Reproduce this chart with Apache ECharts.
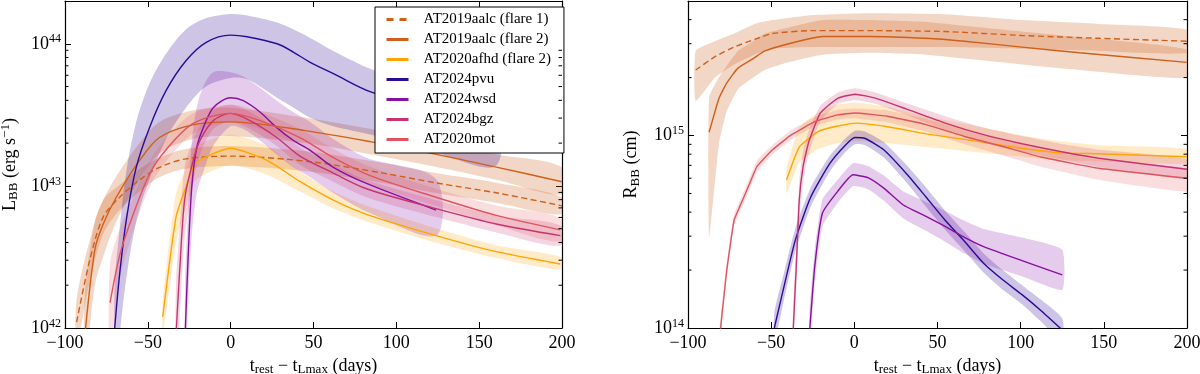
<!DOCTYPE html>
<html>
<head>
<meta charset="utf-8">
<script src="https://cdn.jsdelivr.net/npm/echarts@6/dist/echarts.min.js"></script>
<style>
  html, body { margin: 0; background: #fff; }
  #main { width: 1200px; height: 374px; }
</style>
</head>
<body>
<div id="main"></div>
<script>
// ---- left panel: L_BB (erg s^-1) vs t_rest - t_Lmax (days) ----
const lAalc1T  = [-93, -85, -77, -67, -55, -43, -27, 0, 48, 92, 124, 161, 200];
const lAalc1   = [1.10e42, 3.02e42, 6.03e42, 8.32e42, 1.10e43, 1.35e43, 1.55e43, 1.62e43, 1.48e43, 1.23e43, 1.05e43, 8.91e42, 7.24e42];
const lAalc1Lo = [7.59e41, 2.14e42, 4.57e42, 6.76e42, 9.12e42, 1.15e43, 1.32e43, 1.38e43, 1.26e43, 1.05e43, 8.91e42, 7.59e42, 6.31e42];
const lAalc1Hi = [1.58e42, 4.17e42, 7.94e42, 1.02e43, 1.32e43, 1.58e43, 1.82e43, 1.91e43, 1.74e43, 1.45e43, 1.23e43, 1.05e43, 8.32e42];

const lAalc2T  = [-88, -82, -77, -69, -55, -43, -23, 0, 45, 85, 125, 161, 200];
const lAalc2   = [8.91e41, 3.55e42, 5.37e42, 8.32e42, 1.51e43, 2.19e43, 2.69e43, 2.82e43, 2.45e43, 2.04e43, 1.66e43, 1.35e43, 1.07e43];
const lAalc2Lo = [5.01e41, 2.00e42, 3.16e42, 5.62e42, 1.12e43, 1.70e43, 2.14e43, 2.24e43, 2.00e43, 1.66e43, 1.35e43, 1.10e43, 8.71e42];
const lAalc2Hi = [1.78e42, 5.62e42, 7.94e42, 1.17e43, 2.00e43, 2.82e43, 3.39e43, 3.55e43, 3.02e43, 2.51e43, 2.04e43, 1.66e43, 1.35e43];

const lAfhdT  = [-41, -33, -27, -21, 0, 22, 42, 62, 82, 124, 161, 199];
const lAfhd   = [1.20e42, 6.03e42, 9.77e42, 1.45e43, 1.84e43, 1.51e43, 1.07e43, 7.94e42, 6.31e42, 4.47e42, 3.43e42, 2.82e42];
const lAfhdLo = [8.91e41, 3.98e42, 7.08e42, 1.10e43, 1.41e43, 1.20e43, 9.12e42, 6.92e42, 5.62e42, 3.98e42, 3.09e42, 2.57e42];
const lAfhdHi = [1.58e42, 8.91e42, 1.32e43, 1.91e43, 2.29e43, 1.91e43, 1.26e43, 9.12e42, 7.24e42, 5.01e42, 3.80e42, 3.16e42];

const lPvuT  = [-70, -67, -63, -57, -49, -39, -27, -15, 0, 10, 28, 38, 48, 62, 85, 120, 160];
const lPvu   = [1.00e42, 2.40e42, 5.75e42, 1.35e43, 2.57e43, 4.68e43, 7.59e43, 1.02e44, 1.15e44, 1.12e44, 1.00e44, 8.71e43, 7.41e43, 6.17e43, 4.57e43, 3.55e43, 2.75e43];
const lPvuLo = [3.98e41, 8.91e41, 2.24e42, 5.62e42, 1.12e43, 2.14e43, 3.55e43, 5.01e43, 5.75e43, 5.62e43, 4.17e43, 3.55e43, 3.02e43, 2.63e43, 2.29e43, 1.78e43, 1.38e43];
const lPvuHi = [2.00e42, 5.01e42, 1.26e43, 2.82e43, 5.25e43, 8.51e43, 1.26e44, 1.51e44, 1.62e44, 1.58e44, 1.41e44, 1.26e44, 1.10e44, 8.91e43, 6.61e43, 4.79e43, 3.80e43];

const lWsdT  = [-27.5, -25.6, -23.5, -20.5, -16.5, -10.5, 0, 7.6, 17.7, 27.8, 37.8, 48, 62, 82, 124];
const lWsd   = [8.91e41, 3.31e42, 9.77e42, 1.86e43, 2.57e43, 3.55e43, 4.17e43, 3.98e43, 3.31e43, 2.57e43, 2.09e43, 1.78e43, 1.35e43, 1.04e43, 6.76e42];
const lWsdLo = [5.01e41, 1.58e42, 4.47e42, 8.91e42, 1.26e43, 1.91e43, 2.63e43, 2.51e43, 2.09e43, 1.66e43, 1.35e43, 1.15e43, 8.91e42, 6.61e42, 4.47e42];
const lWsdHi = [2.00e42, 7.08e42, 2.00e43, 3.55e43, 5.01e43, 6.31e43, 6.31e43, 5.89e43, 4.90e43, 3.98e43, 3.31e43, 2.82e43, 2.14e43, 1.58e43, 1.12e43];

const lBgzT  = [-33, -30.2, -27.6, -22.6, -18.5, -10.5, 0, 11.7, 27.8, 41.8, 62, 82, 124, 161, 199];
const lBgz   = [8.91e41, 3.31e42, 8.32e42, 1.51e43, 2.09e43, 2.88e43, 3.24e43, 2.88e43, 2.19e43, 1.62e43, 1.23e43, 9.55e42, 6.92e42, 5.37e42, 4.47e42];
const lBgzLo = [4.47e41, 1.58e42, 4.47e42, 1.05e43, 1.66e43, 2.51e43, 2.82e43, 2.51e43, 1.91e43, 1.41e43, 1.07e43, 8.32e42, 6.03e42, 4.68e42, 3.80e42];
const lBgzHi = [2.00e42, 6.31e42, 1.41e43, 2.09e43, 2.63e43, 3.39e43, 3.72e43, 3.31e43, 2.51e43, 1.86e43, 1.41e43, 1.10e43, 7.94e42, 6.17e42, 5.25e42];

const lMotT  = [-72.8, -66.8, -58.8, -48.7, -38.6, -22.6, 0, 17.7, 41.8, 62, 85, 124, 161, 199];
const lMot   = [1.51e42, 3.31e42, 6.31e42, 1.23e43, 1.82e43, 2.75e43, 3.24e43, 2.88e43, 2.19e43, 1.58e43, 1.17e43, 8.32e42, 6.17e42, 4.90e42];
const lMotLo = [6.31e41, 2.24e42, 4.79e42, 1.00e43, 1.51e43, 2.34e43, 2.82e43, 2.51e43, 1.91e43, 1.38e43, 1.02e43, 7.24e42, 5.25e42, 4.07e42];
const lMotHi = [2.82e42, 5.01e42, 8.32e42, 1.51e43, 2.19e43, 3.24e43, 3.72e43, 3.31e43, 2.51e43, 1.82e43, 1.35e43, 9.55e42, 7.24e42, 5.89e42];

// ---- right panel: R_BB (cm) ----
const rAalc1T  = [-95.4, -83.8, -72.3, -60, -49.2, -26.2, 8.5, 54.6, 100.8, 146.9, 200];
const rAalc1   = [2.19e15, 2.57e15, 2.88e15, 3.16e15, 3.39e15, 3.51e15, 3.51e15, 3.47e15, 3.31e15, 3.20e15, 3.09e15];
const rAalc1Lo = [1.51e15, 2.00e15, 2.34e15, 2.63e15, 2.82e15, 2.88e15, 2.88e15, 2.88e15, 2.82e15, 2.75e15, 2.69e15];
const rAalc1Hi = [2.75e15, 3.09e15, 3.39e15, 3.80e15, 3.98e15, 4.22e15, 4.32e15, 4.27e15, 3.98e15, 3.80e15, 3.55e15];

const rAalc2T  = [-87.3, -81.5, -76.9, -70, -60.8, -53.8, -40, -19.2, 8.5, 43.1, 66.2, 100.8, 135.4, 200];
const rAalc2   = [1.04e15, 1.55e15, 1.86e15, 2.24e15, 2.51e15, 2.75e15, 2.99e15, 3.27e15, 3.27e15, 3.20e15, 3.09e15, 2.88e15, 2.69e15, 2.40e15];
const rAalc2Lo = [2.95e14, 8.91e14, 1.32e15, 1.74e15, 2.00e15, 2.19e15, 2.40e15, 2.63e15, 2.69e15, 2.63e15, 2.51e15, 2.34e15, 2.19e15, 2.00e15];
const rAalc2Hi = [1.58e15, 2.00e15, 2.29e15, 2.75e15, 3.09e15, 3.39e15, 3.63e15, 3.98e15, 3.98e15, 3.89e15, 3.72e15, 3.47e15, 3.24e15, 2.79e15];

const rAfhdT  = [-40.7, -33.1, -21.5, -10, 1.5, 20, 43.1, 66.2, 100.8, 123.8, 146.9, 200];
const rAfhd   = [5.89e14, 8.71e14, 1.05e15, 1.12e15, 1.16e15, 1.11e15, 1.02e15, 9.55e14, 8.59e14, 8.13e14, 8.04e14, 7.76e14];
const rAfhdLo = [5.01e14, 7.24e14, 8.51e14, 9.12e14, 9.33e14, 9.12e14, 8.71e14, 8.32e14, 7.76e14, 7.41e14, 7.33e14, 7.16e14];
const rAfhdHi = [6.76e14, 1.10e15, 1.32e15, 1.45e15, 1.48e15, 1.41e15, 1.26e15, 1.15e15, 1.00e15, 9.33e14, 8.91e14, 8.51e14];

const rPvuT  = [-48.1, -42.3, -35.4, -26.2, -14.6, -5.4, 0.4, 6.2, 17.7, 31.5, 43.1, 54.6, 66.2, 77.7, 89.2, 100.8, 112.3, 125];
const rPvu   = [1.00e14, 1.64e14, 2.88e14, 4.79e14, 7.18e14, 8.91e14, 9.77e14, 9.68e14, 8.43e14, 6.31e14, 4.79e14, 3.63e14, 2.82e14, 2.17e14, 1.78e14, 1.49e14, 1.23e14, 9.77e13];
const rPvuLo = [8.32e13, 1.40e14, 2.51e14, 4.27e14, 6.55e14, 8.22e14, 9.02e14, 8.93e14, 7.69e14, 5.69e14, 4.27e14, 3.24e14, 2.51e14, 1.94e14, 1.58e14, 1.33e14, 1.08e14, 8.51e13];
const rPvuHi = [1.20e14, 1.93e14, 3.31e14, 5.37e14, 7.87e14, 9.66e14, 1.06e15, 1.05e15, 9.25e14, 7.00e14, 5.37e14, 4.07e14, 3.16e14, 2.44e14, 2.00e14, 1.67e14, 1.40e14, 1.12e14];

const rWsdT  = [-27, -23.8, -19.2, -10, -0.8, 8.5, 17.7, 29.2, 43.1, 54.6, 66.2, 77.7, 100.8, 125];
const rWsd   = [9.33e13, 2.09e14, 3.95e14, 5.13e14, 6.25e14, 6.03e14, 5.33e14, 4.37e14, 3.80e14, 3.37e14, 2.96e14, 2.65e14, 2.24e14, 1.89e14];
const rWsdLo = [7.41e13, 1.70e14, 3.37e14, 4.47e14, 5.45e14, 5.25e14, 4.59e14, 3.72e14, 3.20e14, 2.81e14, 2.44e14, 2.16e14, 1.86e14, 1.58e14];
const rWsdHi = [1.17e14, 2.57e14, 4.65e14, 5.89e14, 7.18e14, 6.92e14, 6.19e14, 5.13e14, 4.52e14, 4.06e14, 3.61e14, 3.27e14, 2.95e14, 2.55e14];

const rBgzT  = [-37, -34.9, -33.1, -30.8, -27.3, -20.4, -10, 0.4, 13.1, 31.5, 54.6, 77.7, 100.8, 123.8, 146.9, 200];
const rBgz   = [8.91e13, 2.09e14, 4.63e14, 6.92e14, 9.33e14, 1.31e15, 1.56e15, 1.64e15, 1.56e15, 1.37e15, 1.16e15, 1.01e15, 9.06e14, 8.26e14, 7.62e14, 6.68e14];
const rBgzLo = [6.76e13, 1.58e14, 3.68e14, 5.75e14, 8.13e14, 1.19e15, 1.46e15, 1.53e15, 1.46e15, 1.28e15, 1.07e15, 9.18e14, 8.26e14, 7.53e14, 6.87e14, 5.96e14];
const rBgzHi = [1.17e14, 2.75e14, 5.83e14, 8.32e14, 1.07e15, 1.43e15, 1.67e15, 1.76e15, 1.67e15, 1.47e15, 1.26e15, 1.10e15, 9.93e14, 9.06e14, 8.45e14, 7.50e14];

const rMotT  = [-81, -76.9, -72.3, -65.4, -58.5, -49.2, -37.7, -23.8, -10, 0.4, 20, 43.1, 66.2, 89.2, 112.3, 146.9, 200];
const rMot   = [8.91e13, 1.93e14, 3.63e14, 5.01e14, 6.92e14, 8.43e14, 1.01e15, 1.18e15, 1.28e15, 1.31e15, 1.26e15, 1.14e15, 9.89e14, 8.77e14, 7.73e14, 6.76e14, 6.00e14];
const rMotLo = [7.94e13, 1.76e14, 3.39e14, 4.68e14, 6.46e14, 7.96e14, 9.51e14, 1.12e15, 1.21e15, 1.23e15, 1.17e15, 1.05e15, 9.02e14, 7.91e14, 6.89e14, 5.89e14, 5.11e14];
const rMotHi = [1.00e14, 2.11e14, 3.89e14, 5.37e14, 7.41e14, 8.93e14, 1.07e15, 1.25e15, 1.36e15, 1.38e15, 1.35e15, 1.22e15, 1.07e15, 9.51e14, 8.47e14, 7.50e14, 6.73e14];

// axis ranges and log minor tick positions
const xTicks = [-100, 200, 50];
const lYRange = [1e42, 2e44];
const rYRange = [1e14, 5e15];
const lMinor = [2e42, 3e42, 4e42, 5e42, 6e42, 7e42, 8e42, 9e42, 2e43, 3e43, 4e43, 5e43, 6e43, 7e43, 8e43, 9e43];
const rMinor = [2e14, 3e14, 4e14, 5e14, 6e14, 7e14, 8e14, 9e14, 2e15, 3e15, 4e15];

const names = ['AT2019aalc (flare 1)', 'AT2019aalc (flare 2)', 'AT2020afhd (flare 2)',
               'AT2024pvu', 'AT2024wsd', 'AT2024bgz', 'AT2020mot'];
const colors = ['#cf5f1a', '#cf5f1a', '#ffa500', '#2c0a98', '#87109f', '#c8336f', '#e0545e'];
const bands  = ['rgba(207,95,26,0.25)', 'rgba(207,95,26,0.25)', 'rgba(255,165,0,0.22)',
                'rgba(44,10,152,0.24)', 'rgba(135,16,168,0.22)', 'rgba(200,51,111,0.2)', 'rgba(224,84,94,0.2)'];

const FONT = 'Liberation Serif';

function lineSeries(k, panel, t, v, smooth) {
  return {
    name: names[k], type: 'line', xAxisIndex: panel * 2, yAxisIndex: panel * 2,
    data: t.map((x, i) => [x, v[i]]),
    symbol: 'none', showSymbol: false, smooth: smooth, clip: true, silent: true, z: 3,
    lineStyle: { color: colors[k], width: 1.4, type: k === 0 ? [6, 3.5] : 'solid' },
    itemStyle: { color: colors[k] }
  };
}

function bandSeries(k, panel, t, lo, hi, smooth) {
  return {
    type: 'custom', xAxisIndex: panel * 2, yAxisIndex: panel * 2, silent: true, z: 1,
    data: t.map((x, i) => [x, lo[i], hi[i]]),
    encode: { x: 0, y: [1, 2] },
    renderItem(params, api) {
      if (params.dataIndex !== 0) return null;
      const top = t.map((x, i) => api.coord([x, hi[i]]));
      const bot = t.map((x, i) => api.coord([x, lo[i]])).reverse();
      const cs = params.coordSys;
      return {
        type: 'polygon',
        shape: { points: top.concat(bot), smooth: smooth },
        style: { fill: bands[k] },
        clipPath: { type: 'rect', shape: { x: cs.x, y: cs.y, width: cs.width, height: cs.height } }
      };
    }
  };
}

function minorSeries(panel, vals) {
  return {
    type: 'custom', xAxisIndex: panel * 2, yAxisIndex: panel * 2, silent: true, z: 6,
    data: vals.map(v => [xTicks[0], v]),
    renderItem(params, api) {
      const l = api.coord([xTicks[0], api.value(1)]);
      const r = api.coord([xTicks[1], api.value(1)]);
      return { type: 'group', children: [
        { type: 'line', shape: { x1: l[0], y1: l[1], x2: l[0] + 3.5, y2: l[1] }, style: { stroke: '#000', lineWidth: 1 } },
        { type: 'line', shape: { x1: r[0], y1: r[1], x2: r[0] - 3.5, y2: r[1] }, style: { stroke: '#000', lineWidth: 1 } }
      ] };
    }
  };
}

const axisLine = { show: true, onZero: false, lineStyle: { color: '#000', width: 1.2 } };
const tickIn = { show: true, inside: true, length: 6, lineStyle: { color: '#000', width: 1 } };

function xAxes(grid) {
  return [{
    type: 'value', gridIndex: grid, position: 'bottom', min: xTicks[0], max: xTicks[1], interval: xTicks[2],
    axisLine, axisTick: tickIn, splitLine: { show: false },
    axisLabel: { color: '#000', fontFamily: FONT, fontSize: 18, margin: 6,
                 formatter: v => String(v).replace('-', '\u2212') },
    name: 't{sub|rest} \u2212 t{sub|Lmax} (days)', nameLocation: 'middle', nameGap: 27,
    nameTextStyle: { color: '#000', fontFamily: FONT, fontSize: 18, verticalAlign: 'top',
      rich: { sub: { fontFamily: FONT, fontSize: 13, padding: [8, 0, 0, 0] } } }
  }, {
    type: 'value', gridIndex: grid, position: 'top', min: xTicks[0], max: xTicks[1], interval: xTicks[2],
    axisLine, axisTick: tickIn, axisLabel: { show: false }, splitLine: { show: false }
  }];
}

function logLabel(v) {
  const e = Math.log10(v);
  if (Math.abs(e - Math.round(e)) > 1e-6) return '';
  return '{b|10}{s|' + Math.round(e) + '}';
}

function yAxes(grid, range, name, gap) {
  return [{
    type: 'log', logBase: 10, gridIndex: grid, position: 'left', min: range[0], max: range[1],
    axisLine, axisTick: tickIn, splitLine: { show: false }, minorTick: { show: false },
    axisLabel: { formatter: logLabel, margin: 4, color: '#000',
      rich: { b: { fontFamily: FONT, fontSize: 18, color: '#000' },
              s: { fontFamily: FONT, fontSize: 12, color: '#000', padding: [0, 0, 9, 0] } } },
    name: name, nameLocation: 'middle', nameGap: gap,
    nameTextStyle: { color: '#000', fontFamily: FONT, fontSize: 18,
      rich: { sub: { fontFamily: FONT, fontSize: 13, padding: [8, 0, 0, 0] },
              sup: { fontFamily: FONT, fontSize: 13, padding: [0, 0, 9, 0] } } }
  }, {
    type: 'log', logBase: 10, gridIndex: grid, position: 'right', min: range[0], max: range[1],
    axisLine, axisTick: tickIn, axisLabel: { show: false }, splitLine: { show: false }
  }];
}

const series = [
  bandSeries(0, 0, lAalc1T, lAalc1Lo, lAalc1Hi, 0.3),
  bandSeries(1, 0, lAalc2T, lAalc2Lo, lAalc2Hi, 0.3),
  bandSeries(2, 0, lAfhdT, lAfhdLo, lAfhdHi, 0.2),
  bandSeries(3, 0, lPvuT, lPvuLo, lPvuHi, 0.3),
  bandSeries(4, 0, lWsdT, lWsdLo, lWsdHi, 0.3),
  bandSeries(5, 0, lBgzT, lBgzLo, lBgzHi, 0.3),
  bandSeries(6, 0, lMotT, lMotLo, lMotHi, 0.3),
  lineSeries(0, 0, lAalc1T, lAalc1, 0.3),
  lineSeries(1, 0, lAalc2T, lAalc2, 0.3),
  lineSeries(2, 0, lAfhdT, lAfhd, 0.2),
  lineSeries(3, 0, lPvuT, lPvu, 0.35),
  lineSeries(4, 0, lWsdT, lWsd, 0.3),
  lineSeries(5, 0, lBgzT, lBgz, 0.3),
  lineSeries(6, 0, lMotT, lMot, 0.3),
  bandSeries(0, 1, rAalc1T, rAalc1Lo, rAalc1Hi, 0.15),
  bandSeries(1, 1, rAalc2T, rAalc2Lo, rAalc2Hi, 0.15),
  bandSeries(2, 1, rAfhdT, rAfhdLo, rAfhdHi, 0.15),
  bandSeries(3, 1, rPvuT, rPvuLo, rPvuHi, 0.2),
  bandSeries(4, 1, rWsdT, rWsdLo, rWsdHi, 0.15),
  bandSeries(5, 1, rBgzT, rBgzLo, rBgzHi, 0.15),
  bandSeries(6, 1, rMotT, rMotLo, rMotHi, 0.1),
  { ...lineSeries(0, 1, rAalc1T, rAalc1, 0.15), name: 'r0' },
  { ...lineSeries(1, 1, rAalc2T, rAalc2, 0.15), name: 'r1' },
  { ...lineSeries(2, 1, rAfhdT, rAfhd, 0.15), name: 'r2' },
  { ...lineSeries(3, 1, rPvuT, rPvu, 0.2), name: 'r3' },
  { ...lineSeries(4, 1, rWsdT, rWsd, 0.15), name: 'r4' },
  { ...lineSeries(5, 1, rBgzT, rBgz, 0.15), name: 'r5' },
  { ...lineSeries(6, 1, rMotT, rMot, 0.1), name: 'r6' },
  minorSeries(0, lMinor),
  minorSeries(1, rMinor)
];

const chart = echarts.init(document.getElementById('main'));
chart.setOption({
  animation: false,
  backgroundColor: '#fff',
  grid: [
    { left: 65, right: 638, top: 1, bottom: 46, outerBoundsMode: 'none' },
    { left: 688, right: 13, top: 1, bottom: 46, outerBoundsMode: 'none' }
  ],
  xAxis: [...xAxes(0), ...xAxes(1)],
  yAxis: [...yAxes(0, lYRange, 'L{sub|BB} (erg s{sup|\u22121})', 44),
          ...yAxes(1, rYRange, 'R{sub|BB} (cm)', 46)],
  legend: {
    data: names.map((n, i) => i === 0 ? { name: n, lineStyle: { type: [7, 6] } } : { name: n }),
    orient: 'vertical', left: 375, top: 7,
    itemWidth: 22, itemHeight: 14, itemGap: 5,
    padding: [5, 13, 6, 10],
    backgroundColor: '#fff', borderColor: '#000', borderWidth: 1, borderRadius: 0,
    lineStyle: { width: 3 },
    itemStyle: { opacity: 0, borderWidth: 0 },
    selectedMode: false,
    textStyle: { color: '#000', fontFamily: FONT, fontSize: 15, padding: [0, 0, 0, 10] }
  },
  series: series
});
</script>
</body>
</html>
